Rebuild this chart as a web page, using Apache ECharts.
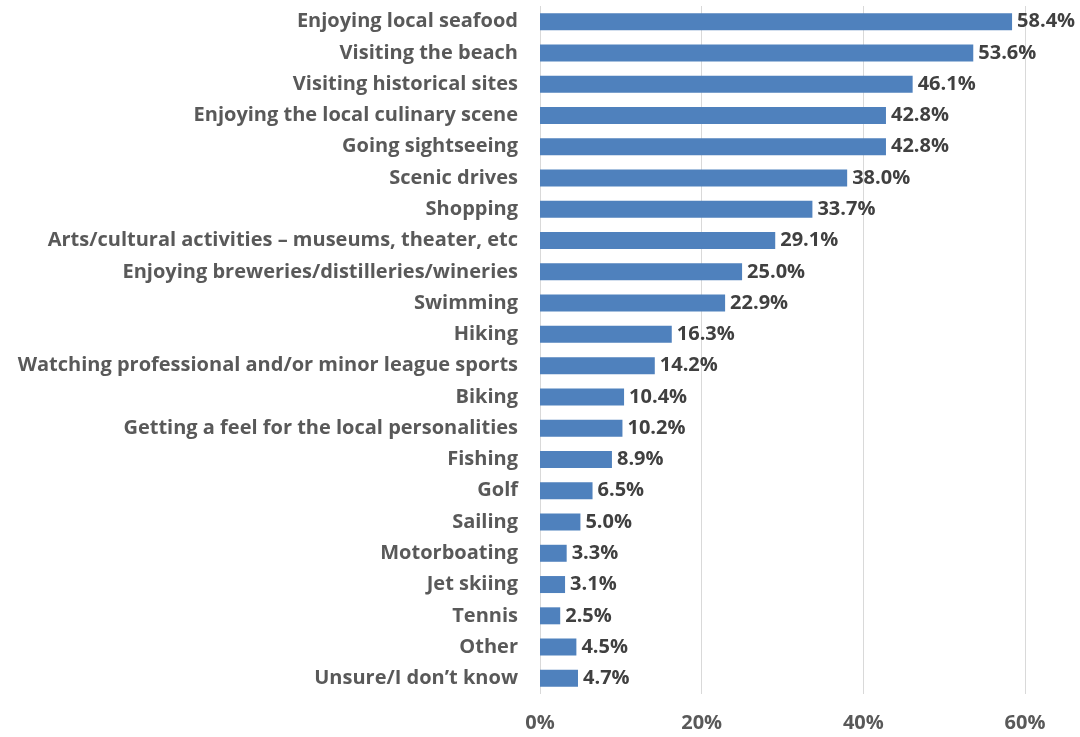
<!DOCTYPE html>
<html>
<head>
<meta charset="utf-8">
<script src="https://cdn.jsdelivr.net/npm/echarts@6/dist/echarts.min.js"></script>
<style>
  html, body { margin: 0; padding: 0; background: #ffffff; }
  #chart { width: 1080px; height: 737px; }
</style>
</head>
<body>
<div id="chart"></div>
<script>
// Activities, listed top to bottom
const activities = [
  'Enjoying local seafood',
  'Visiting the beach',
  'Visiting historical sites',
  'Enjoying the local culinary scene',
  'Going sightseeing',
  'Scenic drives',
  'Shopping',
  'Arts/cultural activities \u2013 museums, theater, etc',
  'Enjoying breweries/distilleries/wineries',
  'Swimming',
  'Hiking',
  'Watching professional and/or minor league sports',
  'Biking',
  'Getting a feel for the local personalities',
  'Fishing',
  'Golf',
  'Sailing',
  'Motorboating',
  'Jet skiing',
  'Tennis',
  'Other',
  'Unsure/I don\u2019t know'
];

// Share of respondents (%)
const shares = [58.4, 53.6, 46.1, 42.8, 42.8, 38.0, 33.7, 29.1, 25.0, 22.9, 16.3, 14.2,
                10.4, 10.2, 8.9, 6.5, 5.0, 3.3, 3.1, 2.5, 4.5, 4.7];

// Value axis ticks (%)
const axisMax = 60;
const axisStep = 20;

const FONT = 'Open Sans';
const chart = echarts.init(document.getElementById('chart'), null, { renderer: 'canvas' });

chart.setOption({
  animation: false,
  backgroundColor: '#ffffff',
  grid: { left: 540, right: 55, top: 6, bottom: 43, containLabel: false },
  xAxis: {
    type: 'value',
    min: 0,
    max: axisMax,
    interval: axisStep,
    axisLine: { show: false },
    axisTick: { show: false },
    splitLine: { show: true, lineStyle: { color: '#d9d9d9', width: 1 } },
    axisLabel: {
      formatter: v => v + '%',
      color: '#595959',
      fontFamily: FONT,
      fontWeight: 'bold',
      fontSize: 20,
      margin: 19
    }
  },
  yAxis: {
    type: 'category',
    inverse: true,
    data: activities,
    axisLine: { show: false },
    axisTick: { show: false },
    axisLabel: {
      color: '#595959',
      fontFamily: FONT,
      fontWeight: 'bold',
      fontSize: 20,
      margin: 22
    }
  },
  series: [{
    type: 'bar',
    data: shares,
    barWidth: 17,
    itemStyle: { color: '#4F81BD' },
    label: {
      show: true,
      position: 'right',
      distance: 5,
      formatter: p => p.value.toFixed(1) + '%',
      color: '#404040',
      fontFamily: FONT,
      fontWeight: 'bold',
      fontSize: 20
    }
  }]
});
</script>
</body>
</html>
